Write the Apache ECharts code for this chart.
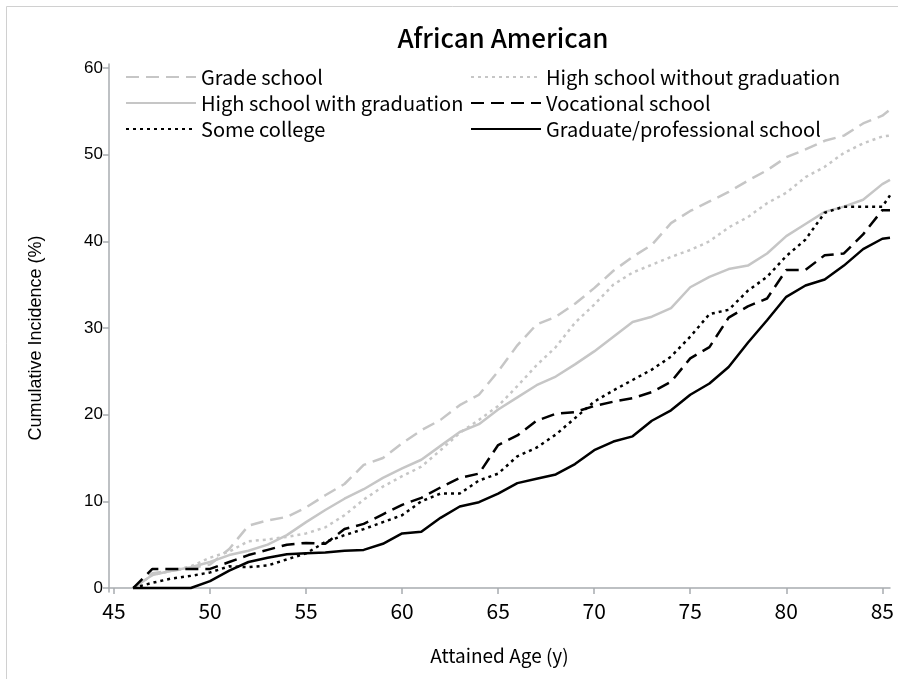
<!DOCTYPE html>
<html>
<head>
<meta charset="utf-8">
<script src="https://cdn.jsdelivr.net/npm/echarts@6/dist/echarts.min.js"></script>
<style>
html,body{margin:0;padding:0;background:#fff;}
#chart{width:898px;height:679px;}
</style>
</head>
<body>
<div id="chart"></div>
<script>
const ages = [46,47,48,49,50,51,52,53,54,55,56,57,58,59,60,61,62,63,64,65,66,67,68,69,70,71,72,73,74,75,76,77,78,79,80,81,82,83,84,85,85.4];
const xTicks = [45,50,55,60,65,70,75,80,85];
const yTicks = [0,10,20,30,40,50,60];

const gradeSchool = [0,1.7,2.0,2.3,2.7,4.5,7.2,7.8,8.2,9.3,10.7,12.0,14.2,15.0,16.7,18.2,19.4,21.1,22.3,25.0,28.0,30.4,31.3,32.8,34.6,36.6,38.2,39.6,42.1,43.5,44.6,45.7,47.0,48.2,49.7,50.6,51.6,52.2,53.6,54.5,55.2];
const hsWithout = [0,1.5,2.0,2.5,3.5,4.2,5.4,5.6,5.9,6.3,7.0,8.4,10.2,11.7,12.9,14.0,15.9,17.9,19.4,21.0,23.3,25.7,27.8,30.6,32.7,35.0,36.4,37.3,38.2,39.0,40.0,41.6,42.8,44.4,45.6,47.4,48.6,50.2,51.3,52.1,52.2];
const hsWith = [0,1.5,2.0,2.4,3.0,3.8,4.3,5.0,6.1,7.6,9.0,10.3,11.4,12.7,13.8,14.8,16.4,18.0,18.9,20.6,22.0,23.4,24.4,25.8,27.3,29.0,30.7,31.3,32.3,34.7,35.9,36.8,37.2,38.6,40.6,42.0,43.4,44.0,44.8,46.6,47.1];
const vocational = [0,2.2,2.2,2.2,2.2,3.0,3.8,4.4,5.0,5.2,5.1,6.8,7.4,8.5,9.6,10.4,11.6,12.7,13.2,16.5,17.6,19.3,20.1,20.3,21.0,21.5,21.9,22.6,23.8,26.5,27.8,31.2,32.5,33.4,36.7,36.7,38.4,38.6,40.8,43.6,43.6];
const someCollege = [0,0.6,1.1,1.4,1.8,2.5,2.4,2.6,3.3,4.0,5.3,6.1,6.8,7.6,8.4,10.0,10.9,10.9,12.4,13.2,15.2,16.2,17.7,19.6,21.5,22.8,24.0,25.2,26.7,29.0,31.6,32.1,34.3,35.9,38.3,40.2,43.3,44.0,44.0,44.0,45.3];
const graduate = [0,0,0,0,0.8,2.0,3.0,3.5,3.9,4.0,4.1,4.3,4.4,5.1,6.3,6.5,8.1,9.4,9.9,10.9,12.1,12.6,13.1,14.3,15.9,16.9,17.5,19.3,20.5,22.3,23.6,25.5,28.3,30.9,33.6,34.9,35.6,37.2,39.1,40.3,40.4];

const seriesNames = ['Grade school','High school without graduation','High school with graduation','Vocational school','Some college','Graduate/professional school'];
const seriesValues = [gradeSchool, hsWithout, hsWith, vocational, someCollege, graduate];

const GRAY = '#c6c6c6';
const styles = [
  {color: GRAY, type: [13, 7]},
  {color: GRAY, type: [3, 4]},
  {color: GRAY, type: 'solid'},
  {color: '#000', type: [13, 7]},
  {color: '#000', type: [3, 4]},
  {color: '#000', type: 'solid'}
];

const narrow = '"Noto Sans CJK JP", "Liberation Sans", sans-serif';
const sans = '"Liberation Sans", Arial, sans-serif';

const series = seriesNames.map((n, i) => ({
  name: n,
  type: 'line',
  data: ages.map((a, k) => [a, seriesValues[i][k]]),
  symbol: 'none',
  showSymbol: false,
  smooth: false,
  animation: false,
  lineStyle: {color: styles[i].color, type: styles[i].type, width: 2.5},
  itemStyle: {color: styles[i].color},
  z: 10 + i
}));

const legendCommon = {
  orient: 'vertical', top: 67, padding: 0,
  itemWidth: 70, itemHeight: 14, itemGap: 6,
  itemStyle: {opacity: 0},
  textStyle: {fontFamily: narrow, fontSize: 20, lineHeight: 20, color: '#000'},
  selectedMode: false
};

const chart = echarts.init(document.getElementById('chart'));
chart.setOption({
  animation: false,
  backgroundColor: '#fff',
  title: {
    text: 'African American',
    left: 498, top: 20, textAlign: 'center',
    textStyle: {fontFamily: narrow, fontSize: 26, fontWeight: 500, color: '#000'}
  },
  graphic: [{
    type: 'rect', shape: {x: 6.5, y: 6.5, width: 1000, height: 1000},
    style: {fill: 'none', stroke: '#d0d0d0', lineWidth: 1}, silent: true, z: 0
  }],
  legend: [
    Object.assign({}, legendCommon, {left: 125, data: [seriesNames[0], seriesNames[2], seriesNames[4]]}),
    Object.assign({}, legendCommon, {left: 470, data: [seriesNames[1], seriesNames[3], seriesNames[5]]})
  ],
  grid: {left: 109, right: 8, top: 64, height: 528, containLabel: false},
  xAxis: {
    type: 'value',
    min: 44.74, max: 85.4,
    name: 'Attained Age (y)', nameLocation: 'middle', nameGap: 54,
    nameTextStyle: {fontFamily: narrow, fontSize: 19, color: '#000'},
    axisLine: {show: true, lineStyle: {color: '#a8acb0', width: 1.5}},
    axisTick: {show: true, length: 6, lineStyle: {color: '#a8acb0', width: 1.5}, customValues: xTicks},
    axisLabel: {customValues: xTicks, fontFamily: narrow, fontSize: 21, color: '#000', margin: 9},
    splitLine: {show: false}
  },
  yAxis: {
    type: 'value',
    min: -0.46, max: 60.46,
    name: 'Cumulative Incidence (%)', nameLocation: 'middle', nameGap: 64, nameRotate: 90,
    nameTextStyle: {fontFamily: sans, fontSize: 18, color: '#000', padding: [0, 20, 0, 0]},
    axisLine: {show: true, lineStyle: {color: '#a8acb0', width: 1.5}},
    axisTick: {show: true, length: 6, lineStyle: {color: '#a8acb0', width: 1.5}, customValues: yTicks},
    axisLabel: {customValues: yTicks, fontFamily: sans, fontSize: 17, color: '#000', margin: 6},
    splitLine: {show: false}
  },
  series: series
});
</script>
</body>
</html>
